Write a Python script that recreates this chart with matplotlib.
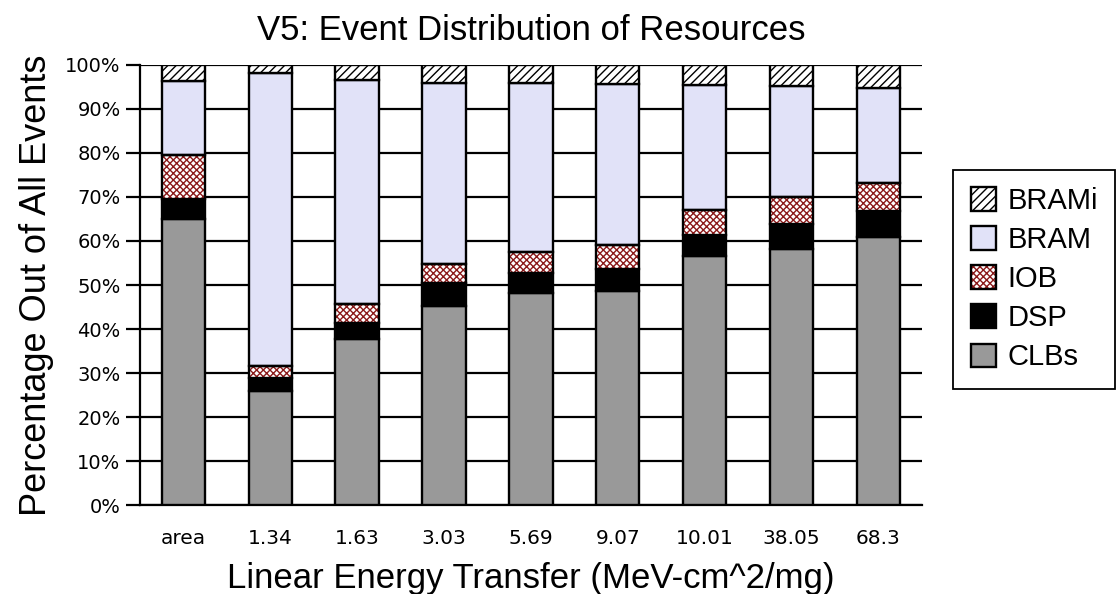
import matplotlib
matplotlib.use("Agg")
import matplotlib.pyplot as plt
from matplotlib.patches import Patch
from matplotlib.legend_handler import HandlerTuple
import numpy as np

categories = ["area", "1.34", "1.63", "3.03", "5.69", "9.07", "10.01", "38.05", "68.3"]
clbs  = [65.0, 26.0, 37.7, 45.2, 48.2, 48.6, 56.6, 58.1, 61.0]
dsp   = [4.5, 2.8, 3.6, 5.2, 4.6, 5.0, 4.8, 5.7, 5.8]
iob   = [10.0, 2.9, 4.4, 4.4, 4.8, 5.5, 5.6, 6.3, 6.3]
bram  = [16.9, 66.5, 51.0, 41.0, 38.2, 36.5, 28.5, 25.2, 21.6]
brami = [3.6, 1.8, 3.3, 4.2, 4.2, 4.4, 4.5, 4.7, 5.3]
y_ticks = [0, 10, 20, 30, 40, 50, 60, 70, 80, 90, 100]
y_tick_labels = [f"{t}%" for t in y_ticks]

SANS = ["Liberation Sans", "DejaVu Sans"]
IOB_RED = "#8b1a1a"

fig = plt.figure(figsize=(11.16, 5.94), dpi=100)
ax = fig.add_axes([0.1254, 0.1498, 0.7006, 0.7408])

x = np.arange(len(categories))
w = 0.5
lw = 1.7

bottom = np.zeros(len(categories))
series = [
    ("CLBs", clbs, dict(facecolor="#999999")),
    ("DSP", dsp, dict(facecolor="black")),
    ("IOB", iob, dict(facecolor="white", hatch="xxxxx")),
    ("BRAM", bram, dict(facecolor="#e1e2f8")),
    ("BRAMi", brami, dict(facecolor="white", hatch="////")),
]
handles = {}
for name, vals, style in series:
    vals = np.asarray(vals)
    if name == "IOB":
        ax.bar(x, vals, w, bottom=bottom, facecolor="white", hatch="xxxxx",
               edgecolor=IOB_RED, linewidth=0, zorder=3)
        ax.bar(x, vals, w, bottom=bottom, fill=False, edgecolor="black",
               linewidth=lw, zorder=4)
        handles[name] = (Patch(facecolor="white", hatch="xxxxx", edgecolor=IOB_RED, linewidth=0),
                         Patch(fill=False, edgecolor="black", linewidth=lw))
    else:
        ax.bar(x, vals, w, bottom=bottom, edgecolor="black", linewidth=lw,
               zorder=3, **style)
        handles[name] = Patch(edgecolor="black", linewidth=lw, **style)
    bottom = bottom + vals

ax.set_xlim(-0.5, len(categories) - 0.5)
ax.set_ylim(0, 100)
ax.set_yticks(y_ticks)
ax.set_yticklabels(y_tick_labels, family=["DejaVu Sans"], fontsize=14)
ax.set_xticks(x)
ax.set_xticklabels(categories, family=["DejaVu Sans"], fontsize=14.5)
ax.tick_params(axis="y", length=10, width=1.6, direction="out", pad=4)
ax.tick_params(axis="x", length=0, pad=17)
ax.yaxis.grid(True, color="black", linewidth=1.6, zorder=0)
ax.set_axisbelow(True)
for side in ("top", "right"):
    ax.spines[side].set_visible(False)
for side in ("left", "bottom"):
    ax.spines[side].set_linewidth(1.6)

ax.set_title("V5: Event Distribution of Resources", family=SANS, fontsize=25, pad=18)
ax.set_ylabel("Percentage Out of All Events", family=SANS, fontsize=26, labelpad=8)
ax.set_xlabel("Linear Energy Transfer (MeV-cm^2/mg)", family=SANS, fontsize=25, labelpad=10)

order = ["BRAMi", "BRAM", "IOB", "DSP", "CLBs"]
leg = fig.legend([handles[k] for k in order], order, loc="center left",
                 bbox_to_anchor=(0.854, 0.530), prop={"family": SANS, "size": 21},
                 frameon=True, fancybox=False, edgecolor="black", framealpha=1,
                 handlelength=0.86, handleheight=0.86, handletextpad=0.4,
                 labelspacing=0.38, borderpad=0.6, borderaxespad=0,
                 handler_map={tuple: HandlerTuple(ndivide=1, pad=0)})
leg.get_frame().set_linewidth(1.3)

fig.savefig("out.png", dpi=100)
